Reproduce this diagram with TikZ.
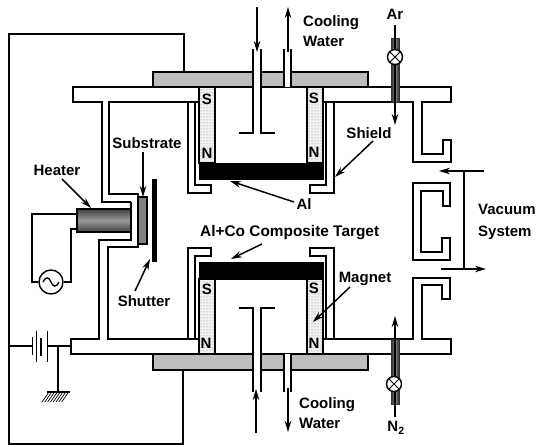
\documentclass[tikz,border=0pt]{standalone}
\usepackage{fontspec}
\setmainfont{Liberation Sans}
\usetikzlibrary{arrows.meta,patterns}
\definecolor{plate}{gray}{0.74}
\tikzset{
  wall/.style={line width=1.7pt,line join=miter},
  thin wire/.style={line width=1.5pt},
  leader/.style={line width=1.5pt,-{Stealth[length=11pt,width=6.5pt]}},
  lbl/.style={font=\bfseries\fontsize{15}{17}\selectfont,inner sep=0pt,text=black},
  pole/.style={font=\bfseries\fontsize{15}{17}\selectfont,inner sep=0pt},
  magnet/.style={draw=black,line width=1.7pt,preaction={fill=black!5},pattern=dots,pattern color=black!50},
  target/.style={fill=black,draw=black,line width=1pt},
  gastube/.style={left color=black!85,right color=black!85,middle color=black!45,draw=black!80,line width=.6pt},
  valve/.style={circle,draw=black,fill=white,line width=1.4pt,minimum size=15pt,inner sep=0pt},
}
\begin{document}
\begin{tikzpicture}[x=1pt,y=-1pt]
\useasboundingbox (0,0) rectangle (536,447);

% outer wire
\draw[wall] (184,72) -- (184,34) -- (9,34) -- (9,444) -- (183,444) -- (183,370);

% grey plates
\draw[wall,fill=plate] (153,87) -- (153,72) -- (368,72) -- (368,87) -- cycle;
\draw[wall,fill=plate] (153,354) -- (153,370) -- (368,370) -- (368,354) -- cycle;

% cooling pipes, top
\fill[white] (253.5,45) rectangle (260.5,133);
\fill[white] (284.5,45) rectangle (290.5,87);
\draw[wall] (253,49) -- (253,133) -- (239,133);
\draw[wall] (261,49) -- (261,133) -- (275,133);
\draw[wall] (284,49) -- (284,87);
\draw[wall] (291,49) -- (291,87);
% cooling pipes, bottom
\fill[white] (253.5,308) rectangle (260.5,392);
\fill[white] (284.5,354) rectangle (290.5,392);
\draw[wall] (253,392) -- (253,308) -- (239,308);
\draw[wall] (261,392) -- (261,308) -- (275,308);
\draw[wall] (284,392) -- (284,354);
\draw[wall] (291,392) -- (291,354);

% chamber outline, upper
\draw[wall] (199,87) -- (73,87) -- (73,102) -- (102,102) -- (102,202) -- (131,202);
\draw[wall] (199,102) -- (109,102) -- (109,194) -- (138,194) -- (138,247) -- (108,247) -- (108,339) -- (199,339);
\draw[wall] (131,202) -- (131,240) -- (99,240) -- (99,339) -- (71,339) -- (71,354) -- (199,354);
\draw[wall] (323,87) -- (451,87) -- (451,102) -- (422,102) -- (422,154) -- (443,154) -- (443,140) -- (451,140) -- (451,162) -- (413,162) -- (413,102) -- (323,102);
\draw[wall] (323,339) -- (413,339) -- (413,278) -- (450,278) -- (450,299) -- (442,299) -- (442,285) -- (422,285) -- (422,339) -- (451,339) -- (451,354) -- (323,354);
% centre baffle of the pump port
\draw[wall] (413,183) -- (450,183) -- (450,206) -- (443,206) -- (443,191) -- (421,191) -- (421,252) -- (442,252) -- (442,238) -- (450,238) -- (450,260) -- (413,260) -- cycle;

% shields
\draw[wall] (188,102) -- (188,193) -- (211,193) -- (211,185) -- (195,185) -- (195,102);
\draw[wall] (188,339) -- (188,248) -- (211,248) -- (211,256) -- (195,256) -- (195,339);
\draw[wall] (334,102) -- (334,193) -- (310,193) -- (310,185) -- (326,185) -- (326,102);
\draw[wall] (334,339) -- (334,248) -- (310,248) -- (310,256) -- (326,256) -- (326,339);

% magnets
\draw[magnet] (199,87) rectangle (215,163);
\draw[magnet] (307,87) rectangle (323,163);
\draw[magnet] (199,279) rectangle (215,354);
\draw[magnet] (307,279) rectangle (323,354);
% targets
\draw[target] (199,163) rectangle (323,179);
\draw[target] (199,262) rectangle (323,279);
% pole letters
\node[pole] (sa) at (207,99) {S};
\node[pole] (na) at (207,153) {N};
\node[pole] (sb) at (314,98) {S};
\node[pole] (nb) at (314,152) {N};
\node[pole] (sc) at (207,289) {S};
\node[pole] (nc) at (206,343) {N};
\node[pole] (sd) at (314,288) {S};
\node[pole] (nd) at (314,343) {N};

% heater, substrate, shutter
\draw[line width=1.7pt,top color=black!75,bottom color=black!75,middle color=black!40] (77,209) rectangle (131,232);
\draw[line width=1.7pt,fill=black!50] (138,197) rectangle (147,244);
\fill[black] (152,179) rectangle (157,262);

% AC supply
\node[valve,minimum size=24pt] (ac) at (51,282) {};
\draw[line width=1.3pt] (43,282) .. controls (46,276) and (49,277) .. (51,282) .. controls (53,287) and (56,288) .. (59,282);
\coordinate (hl) at (77,214);
\coordinate (hr) at (77,229);
\draw[thin wire] (hl) -- (32,214) -- (32,282) -- (ac.west);
\draw[thin wire] (hr) -- (71,229) -- (71,282) -- (ac.east);

% battery and ground
\draw[thin wire] (9,346) -- (32,346);
\draw[thin wire] (47,346) -- (71,346);
\draw[line width=1pt] (32,337) -- (32,355);
\draw[line width=1pt] (36.5,331) -- (36.5,362);
\draw[line width=1.6pt] (41,338) -- (41,356);
\draw[line width=1pt] (47,331) -- (47,362);
\draw[thin wire] (58,346) -- (58,392);
\draw[thin wire] (47,392) -- (70,392);
\foreach \i in {0,...,7} \draw[line width=.7pt] (49+\i*2.8,392) -- (42+\i*2.8,402);

% gas tubes
\draw[gastube] (391,38) rectangle (399,102);
\draw[gastube] (391,339) rectangle (399,404);
\coordinate (ara) at (395,25);
\coordinate (arb) at (395,125);
\draw[leader] (ara) -- (arb);
\coordinate (nna) at (395,417);
\coordinate (nnb) at (395,316);
\draw[leader] (nna) -- (nnb);
\node[valve] (va) at (395,57) {};
\draw[line width=1pt] (va.north west) -- (va.south east) (va.north east) -- (va.south west);
\node[valve] (vb) at (394,384) {};
\draw[line width=1pt] (vb.north west) -- (vb.south east) (vb.north east) -- (vb.south west);

% cooling water arrows
\coordinate (ca) at (257,7); \coordinate (cb) at (257,52);
\draw[leader] (ca) -- (cb);
\coordinate (cc) at (288,52); \coordinate (cd) at (288,7);
\draw[leader] (cc) -- (cd);
\coordinate (ce) at (256,433); \coordinate (cf) at (256,389);
\draw[leader] (ce) -- (cf);
\coordinate (cg) at (288,388); \coordinate (ch) at (288,432);
\draw[leader] (cg) -- (ch);

% vacuum system arrows
\coordinate (vj) at (464,171);
\coordinate (vk) at (464,269);
\coordinate (vl) at (484,171);
\coordinate (vm) at (439,171);
\coordinate (vn) at (441,269);
\coordinate (vo) at (486,269);
\draw[thin wire] (vj) -- (vk);
\draw[leader] (vl) -- (vm);
\draw[leader] (vn) -- (vo);

% labels
\node[lbl,anchor=west] (cw1) at (303,23) {Cooling};
\node[lbl,anchor=west] (cw2) at (303,41) {Water};
\node[lbl,anchor=west] (cw3) at (299,405) {Cooling};
\node[lbl,anchor=west] (cw4) at (299,423) {Water};
\node[lbl] (ar) at (395,14) {Ar};
\node[lbl] (n2) at (396,428) {N\textsubscript{2}};
\node[lbl] (shield) at (369,133) {Shield};
\node[lbl] (al) at (304,204) {Al};
\node[lbl] (sub) at (147,143) {Substrate};
\node[lbl] (heater) at (57,170) {Heater};
\node[lbl,anchor=west,font=\bfseries\fontsize{15.4}{17}\selectfont] (comp) at (200,233) {Al+Co Composite Target};
\node[lbl] (shut) at (144,301) {Shutter};
\node[lbl] (mag) at (365,279) {Magnet};
\node[lbl,anchor=west] (vac1) at (478,209) {Vacuum};
\node[lbl,anchor=west] (vac2) at (478,233) {System};

% leaders
\coordinate (l1a) at (373,141); \coordinate (l1b) at (335,177);
\draw[leader] (l1a) -- (l1b);
\coordinate (l2a) at (294,202); \coordinate (l2b) at (230,181);
\draw[leader] (l2a) -- (l2b);
\coordinate (l3a) at (143,152); \coordinate (l3b) at (143,197);
\draw[leader] (l3a) -- (l3b);
\coordinate (l4a) at (62,179); \coordinate (l4b) at (91,208);
\draw[leader] (l4a) -- (l4b);
\coordinate (l5a) at (262,244); \coordinate (l5b) at (231,259);
\draw[leader] (l5a) -- (l5b);
\coordinate (l6a) at (135,291); \coordinate (l6b) at (150,259);
\draw[leader] (l6a) -- (l6b);
\coordinate (l7a) at (350,287); \coordinate (l7b) at (313,322);
\draw[leader] (l7a) -- (l7b);
\end{tikzpicture}
\end{document}
